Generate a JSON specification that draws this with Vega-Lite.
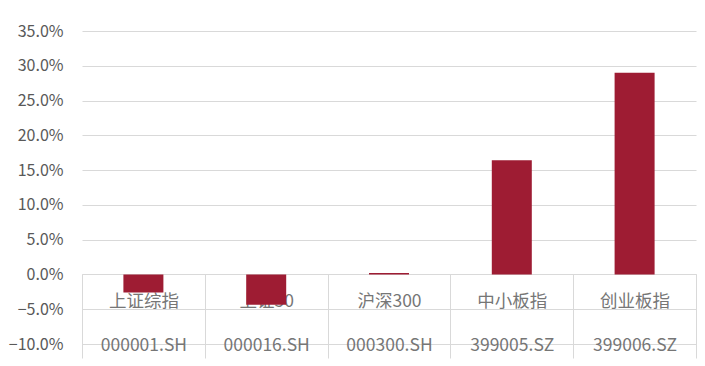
{
  "$schema": "https://vega.github.io/schema/vega-lite/v6.json",
  "width": 614,
  "height": 313,
  "autosize": "none",
  "padding": {"left": 82, "top": 31, "right": 9, "bottom": 22},
  "background": "white",
  "config": {"view": {"stroke": null}, "font": "Noto Sans CJK SC"},
  "data": {
    "values": [
      {"name": "上证综指", "code": "000001.SH", "ret": -0.026},
      {"name": "上证50", "code": "000016.SH", "ret": -0.0435},
      {"name": "沪深300", "code": "000300.SH", "ret": 0.0022},
      {"name": "中小板指", "code": "399005.SZ", "ret": 0.164},
      {"name": "创业板指", "code": "399006.SZ", "ret": 0.29}
    ]
  },
  "transform": [{"calculate": "datum.name + '|' + datum.code", "as": "label"}],
  "mark": {"type": "bar", "width": 40, "color": "#9e1c33"},
  "encoding": {
    "x": {
      "field": "label",
      "type": "nominal",
      "sort": null,
      "scale": {"paddingInner": 0, "paddingOuter": 0},
      "axis": {
        "title": null,
        "orient": "bottom",
        "offset": -70,
        "labelAngle": 0,
        "labelExpr": "split(datum.label, '|')",
        "labelLineHeight": 44,
        "labelFontSize": 17.5,
        "labelColor": "#767676",
        "labelBaseline": "top",
        "labelPadding": -66,
        "tickBand": "extent",
        "tickSize": 84,
        "tickColor": "#d9d9d9",
        "domainColor": "#d9d9d9",
        "zindex": 0
      }
    },
    "y": {
      "field": "ret",
      "type": "quantitative",
      "scale": {"domain": [-0.1, 0.35], "nice": false},
      "axis": {
        "title": null,
        "format": ".1%",
        "values": [-0.1, -0.05, 0, 0.05, 0.1, 0.15, 0.2, 0.25, 0.3, 0.35],
        "domain": false,
        "ticks": false,
        "labelPadding": 19,
        "labelFontSize": 16,
        "labelColor": "#595959",
        "gridColor": "#d9d9d9",
        "gridWidth": 1
      }
    }
  }
}
